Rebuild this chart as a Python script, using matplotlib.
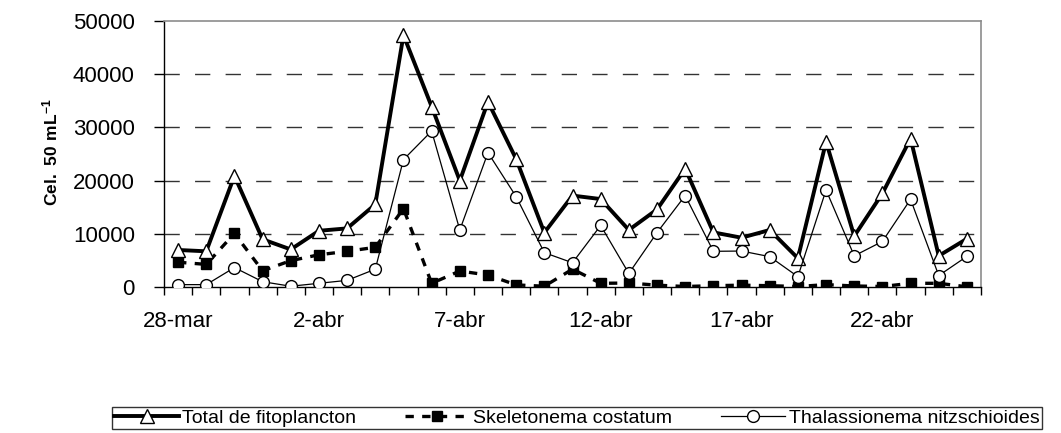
import matplotlib
matplotlib.use('Agg')
import matplotlib.pyplot as plt
import numpy as np
from matplotlib.ticker import FixedLocator

plt.rcParams['font.family'] = ['Liberation Sans', 'DejaVu Sans']
plt.rcParams['mathtext.fontset'] = 'custom'
plt.rcParams['mathtext.bf'] = 'Liberation Sans:bold'
plt.rcParams['mathtext.rm'] = 'Liberation Sans'

dates = ["28-mar", "29-mar", "30-mar", "31-mar", "1-abr", "2-abr", "3-abr",
         "4-abr", "5-abr", "6-abr", "7-abr", "8-abr", "9-abr", "10-abr",
         "11-abr", "12-abr", "13-abr", "14-abr", "15-abr", "16-abr", "17-abr",
         "18-abr", "19-abr", "20-abr", "21-abr", "22-abr", "23-abr", "24-abr",
         "25-abr"]
total = [7000, 6750, 20900, 9000, 7100, 10600, 11050, 15550, 47300, 33900,
         20000, 34800, 24050, 10250, 17200, 16550, 10750, 14600, 22250, 10300,
         9300, 10750, 5450, 27300, 9600, 17600, 27900, 5900, 9100]
skeletonema = [4700, 4300, 10100, 3100, 5000, 6100, 6750, 7500, 14750, 750,
               3050, 2300, 450, 200, 3400, 750, 800, 400, 150, 300,
               400, 300, 150, 500, 250, 150, 750, 750, 100]
thalassionema = [500, 500, 3700, 1050, 200, 750, 1300, 3400, 23950, 29300,
                 10750, 25250, 17000, 6500, 4600, 11600, 2600, 10250, 17200, 6750,
                 6800, 5750, 2000, 18250, 5900, 8600, 16500, 2200, 5800]
yticks = [0, 10000, 20000, 30000, 40000, 50000]
labels = ["Total de fitoplancton", "Skeletonema costatum", "Thalassionema nitzschioides"]

W, H = 1061, 433
fig = plt.figure(figsize=(W / 100, H / 100), dpi=100)
ax = fig.add_axes([164 / W, 1 - 287.3 / H, (981 - 164) / W, (287.3 - 20.7) / H])

x = np.arange(len(dates))
for y in yticks[1:-1]:
    ax.axhline(y, color='#333333', lw=1.0, ls=(0, (11, 11)), zorder=1)

l1, = ax.plot(x, total, color='black', lw=2.8, marker='^', ms=10, mfc='white',
              mec='black', mew=1.0, label=labels[0], zorder=4)
l2, = ax.plot(x, skeletonema, color='black', lw=2.4, ls=(0, (2.5, 2.5)), marker='s',
              ms=6.5, mfc='black', mec='black', label=labels[1], zorder=3)
l3, = ax.plot(x, thalassionema, color='black', lw=0.9, marker='o', ms=8.5,
              mfc='white', mec='black', mew=1.0, label=labels[2], zorder=5)

ax.set_xlim(-0.5, len(dates) - 0.5)
ax.set_ylim(0, 50000)
ax.set_yticks(yticks)
ax.set_yticklabels([str(v) for v in yticks])
ax.set_xticks(x[::5])
ax.set_xticklabels(dates[::5])
ax.xaxis.set_minor_locator(FixedLocator(np.arange(-0.5, len(dates), 1)))
ax.tick_params(axis='x', which='major', length=0, pad=17, labelsize=16)
ax.tick_params(axis='x', which='minor', length=6, direction='out', width=1, color='black')
ax.tick_params(axis='y', length=7, direction='out', pad=14, labelsize=16, width=1)

for s in ['left', 'bottom']:
    ax.spines[s].set_color('black')
    ax.spines[s].set_linewidth(1.0)
for s in ['top', 'right']:
    ax.spines[s].set_color('#8c8c8c')
    ax.spines[s].set_linewidth(1.2)

fig.text(50 / W, 1 - 152 / H, r'$\mathbf{Cel.\ 50\ mL^{-1}}$', rotation=90,
         ha='center', va='center', fontsize=12.5)

leg = fig.legend(handles=[l1, l2, l3], loc='upper center',
                 bbox_to_anchor=(577 / W, 1 - 407 / H), ncol=3, frameon=True,
                 fancybox=False, edgecolor='black', fontsize=14, handlelength=3.3,
                 columnspacing=2.5, handletextpad=0.2, borderaxespad=0, borderpad=0.1)
leg.get_frame().set_linewidth(1.0)

fig.savefig('out.png', dpi=100)
